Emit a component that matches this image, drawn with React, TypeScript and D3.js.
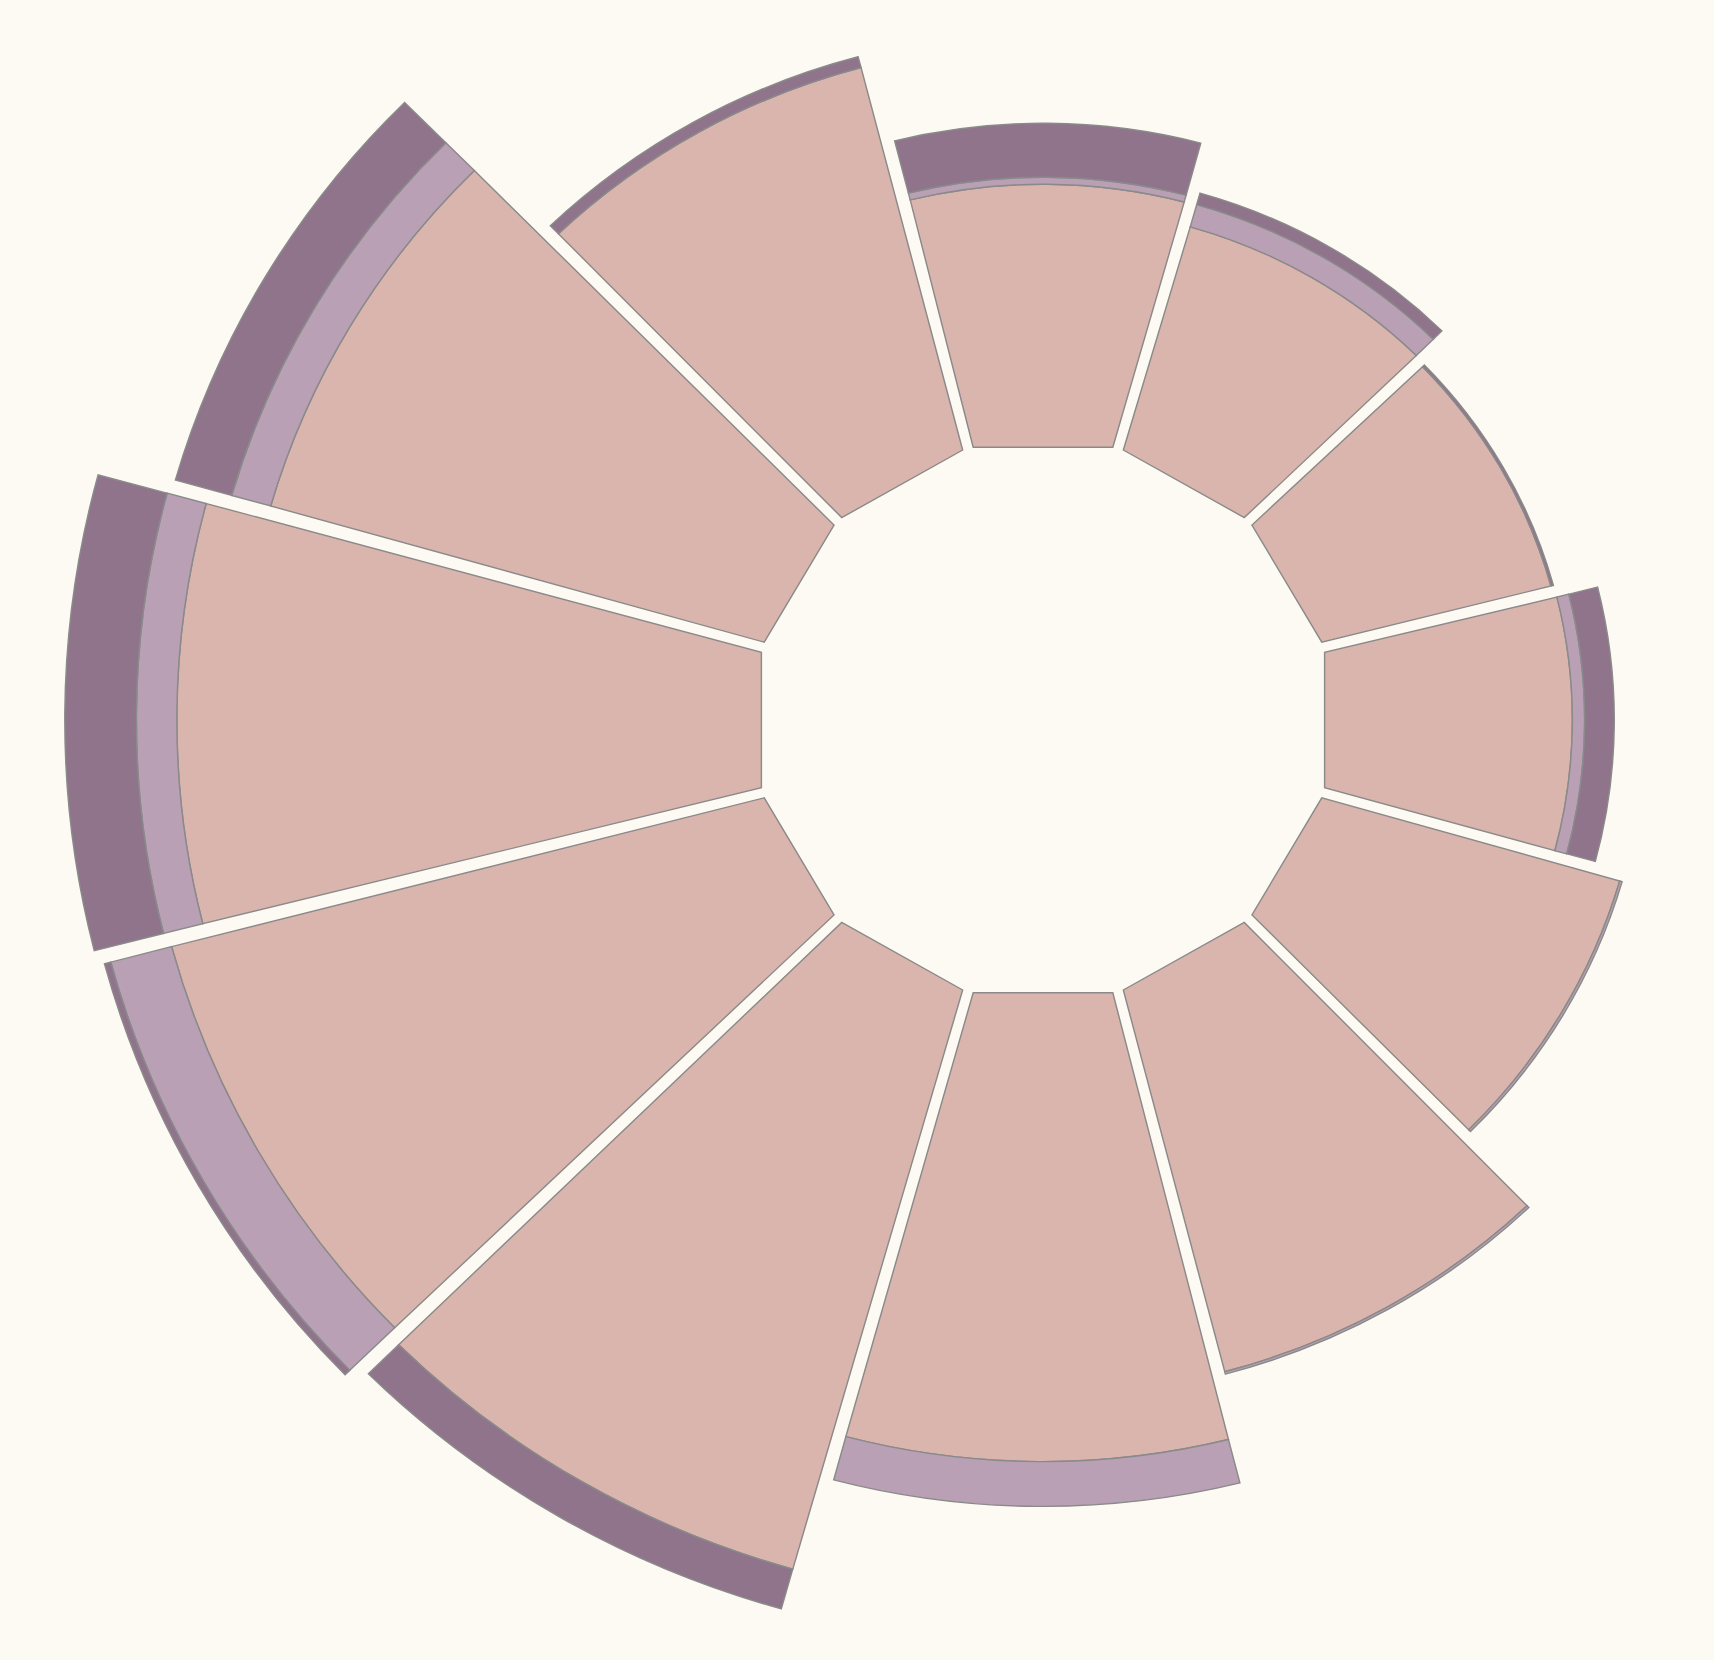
import * as d3 from "d3";

const categories = ["c1", "c2", "c3", "c4", "c5", "c6", "c7", "c8", "c9", "c10", "c11", "c12"];
const baseValues = [36.4, 33.2, 32.7, 33.1, 42.9, 56.3, 65.8, 86.0, 84.7, 79.7, 71.0, 56.4];
const midValues = [1.0, 3.3, 0, 1.7, 0.35, 0.35, 6.4, 0, 8.7, 5.6, 5.6, 0];
const topValues = [7.7, 1.7, 0.35, 4.1, 0, 0, 0, 5.9, 0.9, 9.9, 8.1, 1.6];
const seriesKeys = ["base", "mid", "top"];
const seriesColors = ["#dab5ad", "#b9a0b4", "#8f748c"];

const width = 1714;
const height = 1660;
const cx = 1043;
const cy = 720;
const stretchX = 1.0325;
const halfGap = 4.3; // constant part of the gap
const padAngle = 0.0035; // angular part of the gap, per side
// outer parts sit a touch clockwise of the inner ring
const twist = (0.45 * Math.PI) / 180;

type Row = { cat: string; base: number; mid: number; top: number };

const rows: Row[] = categories.map((c, i) => ({
  cat: c,
  base: baseValues[i],
  mid: midValues[i],
  top: topValues[i],
}));

const r = d3.scaleLinear().domain([0, 100]).range([281, 981]);
const angle = d3
  .scaleBand<string>()
  .domain(categories)
  .range([-Math.PI / 12, 2 * Math.PI - Math.PI / 12]);

// bar segment with gaps; the first layer gets a straight inner edge
function segment(r0: number, r1: number, a0: number, a1: number, flatInner: boolean) {
  const off = -Math.PI / 2 + twist;
  const oa0 = a0 + padAngle + Math.asin(halfGap / r1) + off;
  const oa1 = a1 - padAngle - Math.asin(halfGap / r1) + off;
  const innerOff = flatInner ? -Math.PI / 2 : off;
  const ia0 = a0 + padAngle + Math.asin(halfGap / r0) + innerOff;
  const ia1 = a1 - padAngle - Math.asin(halfGap / r0) + innerOff;
  const p = d3.path();
  p.moveTo(r1 * Math.cos(oa0), r1 * Math.sin(oa0));
  p.arc(0, 0, r1, oa0, oa1, false);
  p.lineTo(r0 * Math.cos(ia1), r0 * Math.sin(ia1));
  if (flatInner) p.lineTo(r0 * Math.cos(ia0), r0 * Math.sin(ia0));
  else p.arc(0, 0, r0, ia1, ia0, true);
  p.closePath();
  return p.toString();
}

export default function App() {
  const stacked = d3.stack<Row>().keys(seriesKeys)(rows);

  return (
    <svg
      width={width}
      height={height}
      style={{ position: "absolute", left: 0, top: 0, background: "#fdfaf3" }}
    >
      <rect width={width} height={height} fill="#fdfaf3" />
      <g transform={`translate(${cx},${cy}) scale(${stretchX},1)`}>
        {stacked.map((layer, li) => (
          <g key={layer.key} fill={seriesColors[li]} stroke="#8a8a8a" strokeWidth={1.4}>
            {layer.map((d, i) => {
              if (d[1] - d[0] <= 0) return null;
              const a0 = angle(d.data.cat)!;
              const a1 = a0 + angle.bandwidth();
              return (
                <path
                  key={i}
                  d={segment(r(d[0]), r(d[1]), a0, a1, li === 0)}
                />
              );
            })}
          </g>
        ))}
      </g>
    </svg>
  );
}
